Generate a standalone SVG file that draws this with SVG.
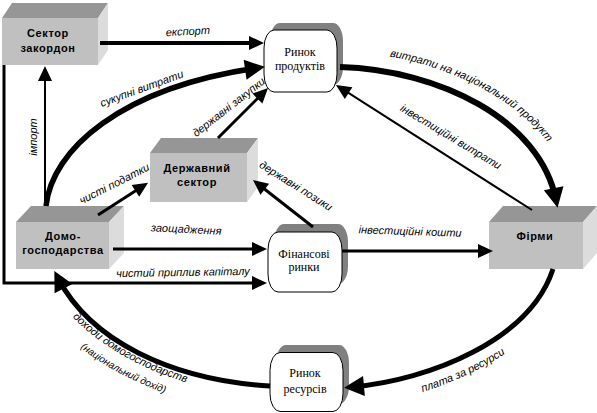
<svg xmlns="http://www.w3.org/2000/svg" width="597" height="413" viewBox="0 0 597 413">
<style>
.front{fill:#c0c0c0}
.top{fill:#969696}
.side{fill:#dcdcdc}
.shadow{fill:#808080}
.mkt{fill:#fff;stroke:#000;stroke-width:1}
.bt{font-family:"Liberation Sans",Arial,sans-serif;font-weight:bold;font-size:11px;letter-spacing:0.6px;text-anchor:middle;fill:#000}
.mt{font-family:"Liberation Serif","Times New Roman",serif;font-size:12px;text-anchor:middle;fill:#000}
.l{font-family:"Liberation Sans",Arial,sans-serif;font-style:italic;font-size:11px;fill:#000}
.c{fill:none;stroke:#000;stroke-linecap:butt;stroke-linejoin:miter}
</style>
<defs>
<marker id="ma" markerUnits="userSpaceOnUse" markerWidth="16" markerHeight="14" refX="9" refY="7" orient="auto" overflow="visible"><path d="M0,0 L15,7 L0,14 z" fill="#000"/></marker>
<marker id="mb" markerUnits="userSpaceOnUse" markerWidth="21" markerHeight="20" refX="12" refY="10" orient="auto" overflow="visible"><path d="M0,0 L20,10 L0,20 z" fill="#000"/></marker>
<path id="tp1" d="M338 51 C 446 54, 557 111, 572 196"/>
<path id="tp2" d="M354 406 C 432 399, 546 353, 571 275"/>
<path id="tp3" d="M48 283 C 80 345, 169 391, 269 397"/>
<path id="tp4" d="M33 294 C 65 357, 168 409, 268 415"/>
</defs>

<g id="sector-zakordon">
<rect class="front" x="2" y="18" width="96" height="47"/>
<polygon class="top" points="2,18 98,18 108,3 12,3"/>
<polygon class="side" points="98,18 108,3 108,50 98,65"/>
<text class="bt" x="48" y="37">Сектор</text>
<text class="bt" x="48" y="52">закордон</text>
</g>

<g id="domogospodarstva">
<rect class="front" x="16" y="222" width="93" height="47"/>
<polygon class="top" points="16,222 109,222 124,206 31,206"/>
<polygon class="side" points="109,222 124,206 124,253 109,269"/>
<text class="bt" x="63" y="240">Домо-</text>
<text class="bt" x="63" y="254">господарства</text>
</g>

<g id="derzhavnyi-sektor">
<rect class="front" x="150" y="153" width="97" height="49"/>
<polygon class="top" points="150,153 247,153 258,138 161,138"/>
<polygon class="side" points="247,153 258,138 258,187 247,202"/>
<text class="bt" x="197" y="172">Державний</text>
<text class="bt" x="197" y="186">сектор</text>
</g>

<g id="firmy">
<rect class="front" x="489" y="222" width="94" height="47"/>
<polygon class="top" points="489,222 583,222 597,206 503,206"/>
<polygon class="side" points="583,222 597,206 597,253 583,269"/>
<text class="bt" x="535" y="240">Фірми</text>
</g>

<g id="rynok-produktiv">
<rect class="shadow" x="270" y="23" width="73" height="62" rx="10" ry="18"/>
<rect class="mkt" x="264" y="30" width="73" height="62" rx="10" ry="18"/>
<text class="mt" x="300" y="56">Ринок</text>
<text class="mt" x="300" y="70">продуктів</text>
</g>

<g id="finansovi-rynky">
<rect class="shadow" x="274" y="224" width="74" height="60" rx="10" ry="18"/>
<rect class="mkt" x="268" y="232" width="74" height="60" rx="10" ry="18"/>
<text class="mt" x="304" y="258">Фінансові</text>
<text class="mt" x="304" y="271">ринки</text>
</g>

<g id="rynok-resursiv">
<rect class="shadow" x="276" y="345" width="73" height="59" rx="10" ry="18"/>
<rect class="mkt" x="270" y="352.5" width="73" height="59" rx="10" ry="18"/>
<text class="mt" x="305" y="377">Ринок</text>
<text class="mt" x="305" y="393">ресурсів</text>
</g>

<g id="connectors">
<path class="c" d="M100 43 H258" stroke-width="4" marker-end="url(#ma)"/>
<path class="c" d="M46 206 C 52 150, 120 88, 257 68" stroke-width="5.5" marker-end="url(#mb)"/>
<path class="c" d="M45 206 V72" stroke-width="2" marker-end="url(#ma)"/>
<path class="c" d="M98 215 L143 186" stroke-width="3" marker-end="url(#ma)"/>
<path class="c" d="M218 138 L263.8 92.2" stroke-width="3" marker-end="url(#ma)"/>
<path class="c" d="M313 227 L257.7 183.7" stroke-width="3" marker-end="url(#ma)"/>
<path class="c" d="M113 249 H261" stroke-width="3" marker-end="url(#ma)"/>
<path class="c" d="M4 65 V283 H261" stroke-width="3" marker-end="url(#ma)"/>
<path class="c" d="M342 251 H487" stroke-width="3" marker-end="url(#ma)"/>
<path class="c" d="M340 67 C 440 70, 540 120, 556 200" stroke-width="6" marker-end="url(#mb)"/>
<path class="c" d="M532 210 L341 88.2" stroke-width="2" marker-end="url(#ma)"/>
<path class="c" d="M553 269 C 530 340, 430 380, 352 387" stroke-width="5" marker-end="url(#mb)"/>
<path class="c" d="M270 386 C 170 380, 90 340, 58 278" stroke-width="5" marker-end="url(#mb)"/>

<text class="l" text-anchor="middle" transform="translate(188,35) rotate(-3)">експорт</text>
<text class="l" text-anchor="middle" font-size="11.5" transform="translate(143,92) rotate(-20)">сукупні витрати</text>
<text class="l" text-anchor="middle" font-size="12" transform="translate(37,137) rotate(-90)">імпорт</text>
<text class="l" text-anchor="middle" font-size="10.5" transform="translate(116,187) rotate(-27)">чисті податки</text>
<text class="l" text-anchor="middle" font-size="10" transform="translate(231,110) rotate(-38)">державні закупки</text>
<text class="l" text-anchor="middle" font-size="10" transform="translate(294,189) rotate(32)">державні позики</text>
<text class="l" text-anchor="middle" font-size="12" transform="translate(186,233) rotate(3)">заощадження</text>
<text class="l" text-anchor="middle" font-size="10" transform="translate(183,276) rotate(-1)">чистий приплив капіталу</text>
<text class="l" text-anchor="middle" font-size="11.5" transform="translate(410,235) rotate(2)">інвестиційні кошти</text>
<text class="l" text-anchor="middle" font-size="10.5" transform="translate(449,140) rotate(31)">інвестиційні витрати</text>
<text class="l" font-size="10.5"><textPath href="#tp1" startOffset="52">витрати на національний продукт</textPath></text>
<text class="l" font-size="13"><textPath href="#tp2" startOffset="70">плата за ресурси</textPath></text>
<text class="l" font-size="10.5"><textPath href="#tp3" startOffset="42">доходи домогосподарств</textPath><textPath href="#tp4" startOffset="72" font-size="10">(національний дохід)</textPath></text>
</g>
</svg>
